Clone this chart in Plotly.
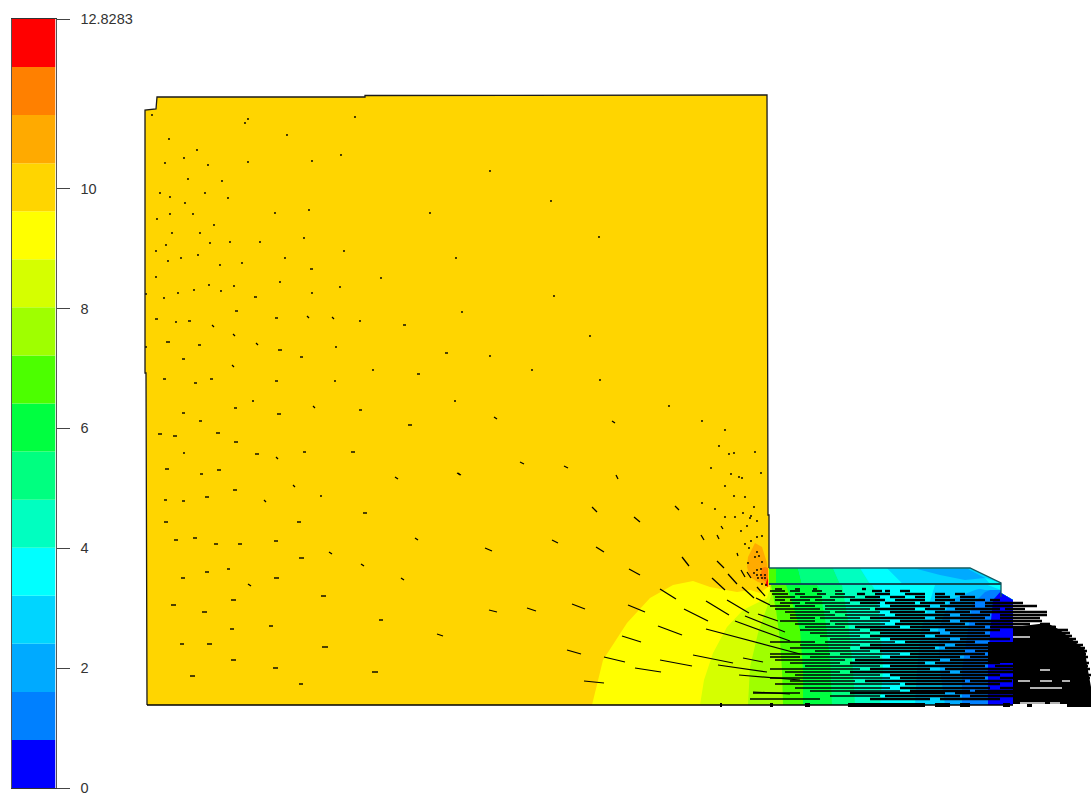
import plotly.graph_objects as go

# ---------- colour scale ----------
band_edges = [0, .8018, 1.6035, 2.4053, 3.2071, 4.0088, 4.8106, 5.6124, 6.4142, 7.2159, 8.0177,
              8.8195, 9.6212, 10.423, 11.2248, 12.0265, 12.8283]
band_colors = ["#0000FF", "#0080FF", "#00AAFF", "#00D5FF", "#00FFFF", "#00FFC0", "#00FF80", "#00FF40",
               "#4CFF00", "#9FFF00", "#D5FF00", "#FFFF00", "#FFD500", "#FFAA00", "#FF8000", "#FF0000"]
tick_vals = [0, 2, 4, 6, 8, 10, 12.8283]
tick_text = ["0", "2", "4", "6", "8", "10", "12.8283"]

# ---------- geometry (model coordinates) ----------
outline_x = [147, 146, 145, 145, 156, 157, 365, 365, 767, 768, 769, 769]
outline_y = [705, 373, 373, 110, 109, 97, 97, 95.5, 95, 515, 515, 568]
ledge_line_x = [769, 970, 1001, 1001]
ledge_line_y = [568, 568, 583, 597]
floor_x = [147, 1013]
floor_y = [705, 705]
step_x = [769, 1001]
step_y = [584, 584]

body_x = [147, 146, 145, 145, 156, 157, 365, 365, 767, 768, 769, 769, 769, 1001, 1001, 1013, 1013]
body_y = [705, 373, 373, 110, 109, 97, 97, 95.5, 95, 515, 515, 584, 584, 584, 593, 600, 705]

yellow_x = [592, 603, 627, 650, 673, 693, 710, 737, 750, 760, 768]
yellow_y = [705, 660, 623, 598, 585, 581, 587, 592, 590, 593, 587]
lime_x = [700, 704, 713, 727, 743, 767, 770]
lime_y = [705, 680, 653, 627, 610, 598, 588]
yellowgreen_x = [748, 750, 758, 766, 771, 770]
yellowgreen_y = [705, 667, 633, 610, 596, 586]
green_x = [783, 782, 780, 776, 772, 771]
green_y = [705, 670, 640, 610, 590, 585]
green2_x = [803, 803, 800, 793, 786]
green2_y = [705, 670, 630, 605, 585]
mint_x = [832, 830, 826, 820, 817]
mint_y = [705, 660, 625, 590, 585]
aqua_x = [855, 853, 848, 842]
aqua_y = [705, 670, 620, 585]
cyan_x = [880, 883, 880, 875, 872]
cyan_y = [705, 670, 620, 590, 585]
sky_x = [915, 917, 921, 930, 935]
sky_y = [705, 670, 630, 600, 585]
azure_x = [945, 940, 938, 950, 975, 993]
azure_y = [705, 670, 630, 600, 590, 585]
blue1_x = [962, 962, 968, 972, 985, 1001]
blue1_y = [705, 670, 630, 605, 592, 586]
blue0_x = [988, 988, 991, 993, 1001]
blue0_y = [705, 660, 620, 600, 591]
strip_right_x = [1001, 1001, 1013, 1013]
strip_right_y = [584, 593, 600, 705]

tip_sky_x = [960, 1001, 1001, 985]
tip_sky_y = [584, 584, 590, 590]
tip_cyan_x = [985, 1001, 1001]
tip_cyan_y = [584, 584, 590]

hot_x = [755, 762, 767, 768, 758, 750, 747, 748]
hot_y = [543, 547, 563, 585, 582, 577, 567, 557]
hotter_x = [765, 768, 768, 760, 762]
hotter_y = [567, 568, 583, 578, 568]
hottest_x = [765, 768, 768]
hottest_y = [585, 578, 587]

# upper ledge
ledge_x = [769, 970, 1001, 1001, 769]
ledge_y = [568, 568, 583, 584, 584]
ledge_bands = [
    ("#4CFF00", [769, 776, 776, 769], [568, 568, 584, 584]),
    ("#00FF40", [776, 798, 802, 776], [568, 568, 584, 584]),
    ("#00FF80", [798, 833, 840, 802], [568, 568, 584, 584]),
    ("#00FFC0", [833, 860, 870, 840], [568, 568, 584, 584]),
    ("#00FFFF", [860, 887, 903, 870], [568, 568, 584, 584]),
    ("#00D5FF", [887, 970, 1001, 1001, 903], [568, 568, 583, 584, 584]),
    ("#00AAFF", [917, 968, 985, 965, 940], [569, 569, 578, 580, 575]),
    ("#00FFFF", [985, 1001, 1001, 990], [578, 583, 584, 584]),
]

# ---------- flow vectors: points ----------
dot_x = [152, 248, 245, 355, 169, 287, 197, 184, 165, 208, 248, 312, 341, 188, 222, 160, 170, 205, 228, 185,
         170, 193, 157, 275, 309, 430, 214, 172, 200, 166, 210, 230, 260, 304, 156, 344, 168, 181, 198, 220,
         242, 285, 456, 156, 381, 209, 234, 280, 340, 146, 178, 194, 221, 164, 312, 176, 360, 146, 336, 373,
         335, 490, 551, 599, 554, 462, 590, 490, 532, 600, 184, 321,
         669, 702, 725, 719, 729, 734, 755, 711, 731, 739, 742, 761, 725, 734, 745, 702, 715, 754, 743, 725,
         735, 751, 750, 757, 747, 741, 762, 757, 751, 745, 749, 757, 755, 759, 748, 762, 757, 761, 754, 757,
         761, 765, 765, 762, 758, 762, 766]
dot_y = [115, 119, 123, 117, 139, 135, 150, 158, 163, 165, 162, 161, 155, 179, 181, 193, 197, 193, 198, 203,
         214, 214, 219, 213, 210, 213, 225, 233, 233, 245, 243, 242, 242, 238, 251, 251, 261, 258, 255, 265,
         263, 258, 258, 277, 278, 285, 286, 282, 287, 294, 293, 290, 291, 298, 293, 322, 321, 347, 347, 370,
         381, 171, 201, 237, 296, 312, 336, 356, 370, 380, 453, 496,
         406, 421, 430, 446, 454, 453, 452, 468, 474, 477, 478, 473, 486, 496, 497, 503, 509, 507, 513, 517,
         517, 516, 518, 521, 526, 531, 536, 537, 541, 544, 548, 552, 557, 556, 563, 562, 570, 569, 573, 575,
         575, 575, 578, 578, 578, 584, 585]

# short level vectors
dash_x = [310, 254, 235, 155, 188, 275, 403, 166, 198, 278, 300, 445, 182, 163, 194, 210, 275, 417, 252, 454,
          234, 182, 277, 359, 199, 408, 158, 173, 216, 234, 255, 303, 351, 165, 200, 217, 233, 164, 182, 205,
          363, 164, 297, 174, 193, 214, 238, 274, 299, 205, 227, 181, 274, 321, 231, 171, 202, 379, 230, 269,
          180, 207, 322, 231, 273, 372, 190, 299]
dash_y = [269, 297, 311, 319, 321, 318, 325, 342, 345, 350, 357, 353, 359, 379, 383, 379, 381, 374, 401, 401,
          408, 413, 414, 410, 421, 425, 434, 436, 433, 442, 454, 452, 452, 469, 474, 470, 490, 500, 501, 497,
          513, 522, 522, 540, 538, 544, 544, 541, 558, 572, 569, 578, 578, 596, 600, 605, 612, 620, 629, 626,
          644, 644, 647, 660, 668, 672, 676, 684]
dash_len = [3, 3, 3, 3, 3, 3, 3, 4, 3, 4, 3, 3, 3, 3, 3, 3, 3, 3, 2, 2,
            3, 3, 4, 3, 3, 4, 4, 4, 4, 4, 4, 3, 4, 4, 3, 4, 4, 3, 3, 4,
            4, 4, 4, 4, 4, 4, 4, 4, 5, 4, 3, 4, 5, 5, 5, 5, 5, 4, 4, 4,
            4, 5, 6, 5, 5, 6, 5, 4]

# sloping vectors (tail -> head)
arrow_x0 = [212, 233, 256, 232, 307, 332, 313, 276, 293, 264, 248, 329, 361, 395, 401, 458,
            494, 612, 520, 564, 457, 616, 592, 634, 675, 701, 717, 721, 552, 485, 596, 629, 682, 717, 737, 712,
            728, 741, 747, 742, 757, 660, 489, 527, 572, 628, 684, 706, 727, 756, 658, 622, 735, 745, 758, 706,
            567, 604, 660, 635, 693, 718, 743, 739, 584, 753, 415, 437]
arrow_y0 = [325, 334, 343, 365, 316, 317, 406, 457, 485, 500, 584, 552, 564, 477, 578, 473,
            417, 421, 462, 466, 473, 475, 507, 517, 506, 535, 535, 526, 540, 548, 547, 569, 557, 561, 553, 578,
            574, 570, 572, 587, 587, 589, 610, 608, 604, 605, 609, 601, 600, 598, 626, 636, 621, 616, 614, 629,
            650, 657, 660, 668, 655, 665, 658, 675, 681, 692, 538, 634]
arrow_x1 = [214, 235, 258, 234, 309, 334, 315, 278, 295, 266, 251, 332, 364, 398, 404, 460,
            497, 615, 524, 568, 461, 618, 597, 640, 679, 704, 719, 723, 558, 492, 604, 640, 689, 724, 738, 725,
            737, 745, 751, 754, 765, 676, 497, 536, 585, 645, 708, 729, 749, 770, 682, 641, 790, 785, 778, 800,
            581, 625, 692, 661, 733, 767, 763, 800, 604, 790, 418, 443]
arrow_y1 = [327, 336, 345, 367, 318, 319, 408, 459, 487, 502, 586, 554, 566, 479, 580, 475,
            419, 423, 464, 468, 475, 479, 512, 522, 510, 540, 539, 529, 543, 551, 552, 575, 566, 568, 556, 590,
            584, 577, 578, 598, 596, 599, 612, 611, 609, 612, 621, 615, 613, 605, 635, 642, 641, 632, 621, 654,
            654, 662, 666, 672, 663, 672, 662, 680, 683, 694, 540, 636]

# dense level vectors in the outlet strip: (y, [(tail, head), ...])
dense_y = [589, 591, 594, 597, 600, 603, 606, 609, 612, 615, 618, 621, 624, 627, 630, 633, 636, 639, 642, 645,
           648, 651, 654, 657, 660, 663, 666, 669, 672, 675, 678, 681, 684, 688, 691, 693, 696, 699]
dense_spans = [
    [(775, 782), (795, 800), (813, 817), (862, 866)],
    [(770, 785), (790, 800), (812, 822), (835, 842), (872, 882), (885, 890), (900, 910)],
    [(772, 788), (795, 805), (817, 826), (835, 845), (857, 865), (875, 890), (905, 925), (935, 945), (955, 965)],
    [(775, 795), (800, 822), (830, 855), (865, 880), (890, 905), (915, 925), (935, 950), (960, 975)],
    [(775, 785), (790, 810), (815, 835), (850, 885), (895, 925), (935, 955), (960, 985), (990, 1000)],
    [(780, 800), (805, 850), (860, 880), (885, 915), (920, 945), (950, 975), (985, 1023)],
    [(770, 790), (795, 815), (825, 880), (890, 930), (940, 975), (985, 1037)],
    [(775, 820), (825, 870), (875, 915), (925, 945), (955, 1000), (1005, 1025)],
    [(785, 830), (835, 880), (890, 925), (935, 970), (980, 1047)],
    [(790, 835), (845, 885), (895, 950), (960, 990), (1000, 1047)],
    [(790, 815), (820, 860), (870, 925), (935, 985), (1000, 1040)],
    [(780, 815), (830, 890), (900, 950), (960, 1042)],
    [(795, 830), (835, 885), (895, 965), (975, 1030)],
    [(805, 845), (855, 900), (910, 985), (990, 1055)],
    [(800, 860), (870, 930), (945, 1000)],
    [(810, 870), (880, 940), (950, 985)],
    [(820, 860), (870, 925), (935, 990)],
    [(830, 880), (890, 950), (960, 1010)],
    [(770, 815), (825, 895), (905, 975)],
    [(800, 860), (870, 945), (955, 990)],
    [(790, 850), (860, 935), (945, 990)],
    [(815, 870), (880, 965), (975, 990)],
    [(770, 830), (840, 900), (910, 985)],
    [(770, 800), (810, 880), (890, 960), (970, 990)],
    [(775, 845), (855, 940), (950, 990)],
    [(790, 840), (850, 925), (935, 1000)],
    [(805, 880), (890, 985), (995, 1013)],
    [(770, 860), (870, 930), (945, 1013)],
    [(785, 840), (850, 950), (960, 1013)],
    [(795, 880), (890, 1000)],
    [(770, 890), (900, 985), (1000, 1013)],
    [(790, 855), (865, 965), (970, 1012)],
    [(775, 900), (905, 1000)],
    [(795, 890), (900, 990), (1000, 1013)],
    [(810, 900), (910, 970), (975, 1013)],
    [(753, 800), (850, 945), (955, 1013)],
    [(830, 880), (885, 960), (970, 1013)],
    [(750, 820), (870, 930), (940, 1000)],
]

# arrow heads crowded along the floor
floor_clump_x0 = [720, 770, 805, 848, 935, 960, 1003, 1027, 1067]
floor_clump_x1 = [722, 773, 810, 925, 950, 970, 1010, 1032, 1091]

# arrow-head mass past the outlet
mass_x = [988, 1013, 1013, 1030, 1047, 1060, 1072, 1085, 1087, 1091, 1091, 1013, 1013, 988]
mass_y = [642, 642, 627, 625, 623, 630, 640, 650, 665, 687, 704, 704, 663, 663]
mass_row_y = [624, 627, 630, 633, 636, 639, 642, 645, 648, 651, 654, 657, 660, 663, 666, 669, 672, 675, 678]
mass_row_end = [1050, 1056, 1068, 1070, 1072, 1076, 1078, 1083, 1085, 1087, 1086, 1088, 1086, 1089, 1088, 1090, 1088, 1091, 1090]
gap_x0 = [1013, 1040, 1018, 1030, 1062, 1040, 1020, 1050]
gap_x1 = [1030, 1050, 1030, 1062, 1070, 1052, 1045, 1060]
gap_y = [637, 670, 681, 688, 681, 681, 703, 703]


def segs(x0, y0, x1, y1):
    xs, ys = [], []
    for a, b, c, d in zip(x0, y0, x1, y1):
        xs += [a, c, None]
        ys += [b, d, None]
    return xs, ys


fig = go.Figure()


def poly(x, y, color):
    fig.add_trace(go.Scatter(x=x, y=y, mode="lines", fill="toself", fillcolor=color,
                             line=dict(width=0, color=color), hoverinfo="skip", showlegend=False))


def strokes(xs, ys, width=1.2, color="#000000"):
    fig.add_trace(go.Scatter(x=xs, y=ys, mode="lines", line=dict(width=width, color=color),
                             connectgaps=False, hoverinfo="skip", showlegend=False))


# contour fill: painted from the far field inwards
poly(body_x, body_y, "#FFD500")
poly(hot_x, hot_y, "#FFAA00")
poly(hotter_x, hotter_y, "#FF8000")
poly(hottest_x, hottest_y, "#FF0000")
contours = [(yellow_x, yellow_y, "#FFFF00"), (lime_x, lime_y, "#D5FF00"), (yellowgreen_x, yellowgreen_y, "#9FFF00"),
            (green_x, green_y, "#4CFF00"), (green2_x, green2_y, "#00FF40"), (mint_x, mint_y, "#00FF80"),
            (aqua_x, aqua_y, "#00FFC0"), (cyan_x, cyan_y, "#00FFFF"), (sky_x, sky_y, "#00D5FF"),
            (azure_x, azure_y, "#00AAFF"), (blue1_x, blue1_y, "#0080FF"), (blue0_x, blue0_y, "#0000FF")]
for cx, cy, col in contours:
    skip = 1 if cx[-1] >= 1001 else 0
    poly(cx + strip_right_x[skip:], cy + strip_right_y[skip:], col)
poly(tip_sky_x, tip_sky_y, "#00D5FF")
poly(tip_cyan_x, tip_cyan_y, "#00FFFF")
poly(ledge_x, ledge_y, "#00D5FF")
for col, bx, by in ledge_bands:
    poly(bx, by, col)

# vectors
fig.add_trace(go.Scatter(x=dot_x, y=dot_y, mode="markers", marker=dict(size=2.1, color="#1a1400", line=dict(width=0)),
                         hoverinfo="skip", showlegend=False))
xs, ys = segs(dash_x, dash_y, [a + b for a, b in zip(dash_x, dash_len)], dash_y)
strokes(xs, ys, 1.4)
xs, ys = segs(arrow_x0, arrow_y0, arrow_x1, arrow_y1)
strokes(xs, ys, 1.25)
near_x0, near_y0, near_x1, near_y1 = [], [], [], []
far_x0, far_y0, far_x1, far_y1 = [], [], [], []
for y, spans in zip(dense_y, dense_spans):
    for a, b in spans:
        if a < 850:
            near_x0.append(a); near_y0.append(y); near_x1.append(b); near_y1.append(y)
        else:
            far_x0.append(a); far_y0.append(y); far_x1.append(b); far_y1.append(y)
xs, ys = segs(near_x0, near_y0, near_x1, near_y1)
strokes(xs, ys, 1.6)
xs, ys = segs(far_x0, far_y0, far_x1, far_y1)
strokes(xs, ys, 2.4)

# outline
strokes(outline_x, outline_y, 1.3, "#1a1a1a")
strokes(ledge_line_x, ledge_line_y, 1.3, "#125a62")
strokes(step_x, step_y, 1.8, "#0b4f57")
strokes(floor_x, floor_y, 1.6, "#000000")
xs, ys = segs(floor_clump_x0, [705] * len(floor_clump_x0), floor_clump_x1, [705] * len(floor_clump_x1))
strokes(xs, ys, 4)

poly(mass_x, mass_y, "#000000")
xs, ys = segs([1040] * len(mass_row_y), mass_row_y, mass_row_end, mass_row_y)
strokes(xs, ys, 2.6)
xs, ys = segs(gap_x0, gap_y, gap_x1, gap_y)
strokes(xs, ys, 1.4, "#FFFFFF")

# colour bar
fig.add_trace(go.Bar(x=[0] * len(band_colors), y=[b - a for a, b in zip(band_edges[:-1], band_edges[1:])],
                     base=band_edges[:-1], width=1, marker=dict(color=band_colors, line=dict(width=0)),
                     xaxis="x2", yaxis="y2", hoverinfo="skip", showlegend=False))

W, H = 1091, 793
fig.update_layout(
    width=W, height=H, margin=dict(l=0, r=0, t=0, b=0, pad=0, autoexpand=False),
    paper_bgcolor="white", plot_bgcolor="rgba(0,0,0,0)", barmode="overlay", showlegend=False,
    font=dict(family="Liberation Sans, Arial, sans-serif", size=14.5, color="#333333"),
    xaxis=dict(domain=[0, 1], range=[0, W], visible=False, fixedrange=True),
    yaxis=dict(domain=[0, 1], range=[H, 0], visible=False, fixedrange=True),
    xaxis2=dict(domain=[12 / W, 55.5 / W], range=[-0.5, 0.5], anchor="y2", showticklabels=False, ticks="",
                showgrid=False, zeroline=False, showline=True, mirror=True, linecolor="#333333", linewidth=1,
                automargin=False),
    yaxis2=dict(domain=[1 - 788 / H, 1 - 19 / H], range=[0, 12.8283], anchor="x2", side="right",
                tickmode="array", tickvals=tick_vals, ticktext=tick_text, ticks="outside", ticklen=13,
                tickwidth=1, tickcolor="#444444", ticklabelstandoff=8, ticklabeloverflow="allow", showgrid=False,
                zeroline=False, showline=True, mirror=True, linecolor="#555555", linewidth=1, automargin=False),
)

fig.write_html("out.html", config={"displayModeBar": False},
               post_script="document.body.style.margin='0';document.documentElement.style.overflow='hidden';")
